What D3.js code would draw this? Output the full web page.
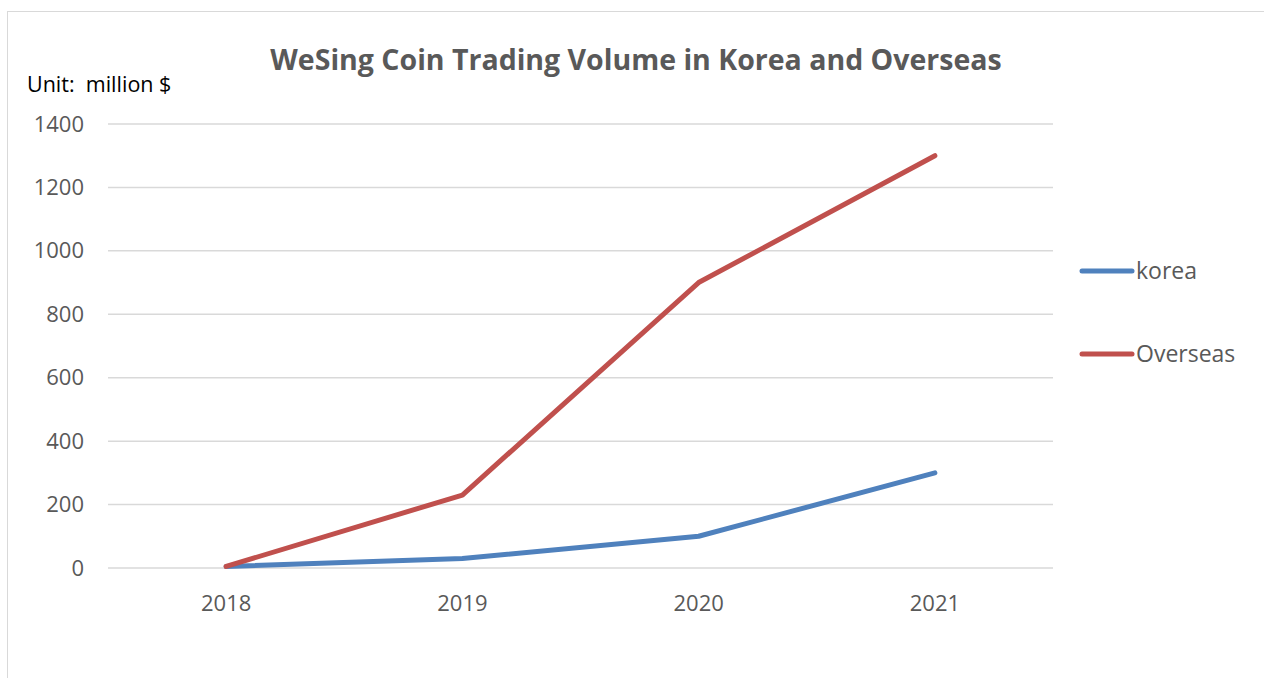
<!DOCTYPE html>
<html>
<head>
<meta charset="utf-8">
<script src="https://cdn.jsdelivr.net/npm/d3@7"></script>
<style>
  body { margin: 0; background: #fff; }
  text { font-family: "Open Sans", "Noto Sans", sans-serif; }
</style>
</head>
<body>
<script>
var years = ['2018', '2019', '2020', '2021'];
var korea = [5, 30, 100, 300];
var overseas = [5, 230, 900, 1300];
var yTicks = [0, 200, 400, 600, 800, 1000, 1200, 1400];
var seriesNames = ['korea', 'Overseas'];
var seriesColors = ['#4f81bd', '#c0504d'];

var W = 1264, H = 678;
var svg = d3.select('body').append('svg').attr('width', W).attr('height', H);

// chart frame
svg.append('rect')
    .attr('x', 7.5).attr('y', 11.5)
    .attr('width', 1270).attr('height', 700)
    .attr('fill', '#fff').attr('stroke', '#d9d9d9').attr('stroke-width', 1);

var x = d3.scaleBand().domain(years).range([108, 1053]);
var y = d3.scaleLinear().domain([0, 1400]).range([568, 124]);

// gridlines
svg.append('g')
    .selectAll('line')
    .data(yTicks)
    .enter().append('line')
    .attr('x1', 108).attr('x2', 1053)
    .attr('y1', function (d) { return y(d); })
    .attr('y2', function (d) { return y(d); })
    .attr('stroke', '#d9d9d9').attr('stroke-width', 1.5);

// y axis labels
var yAxis = svg.append('g')
    .attr('transform', 'translate(84,0)')
    .call(d3.axisLeft(y).tickValues(yTicks).tickFormat(d3.format('d')).tickSize(0).tickPadding(0));
yAxis.select('.domain').remove();
yAxis.selectAll('text')
    .attr('fill', '#595959')
    .style('font-size', '22px');

// x axis labels
var xAxis = svg.append('g')
    .attr('transform', 'translate(0,' + 590 + ')')
    .call(d3.axisBottom(x).tickSize(0).tickPadding(0));
xAxis.select('.domain').remove();
xAxis.selectAll('text')
    .attr('dy', '0.95em')
    .attr('fill', '#595959')
    .style('font-size', '22px');

var line = d3.line()
    .x(function (d, i) { return x(years[i]) + x.bandwidth() / 2; })
    .y(function (d) { return y(d); });

[korea, overseas].forEach(function (vals, i) {
    svg.append('path')
        .datum(vals)
        .attr('d', line)
        .attr('fill', 'none')
        .attr('stroke', seriesColors[i])
        .attr('stroke-width', 5)
        .attr('stroke-linecap', 'round')
        .attr('stroke-linejoin', 'round');
});

// legend
var leg = svg.append('g')
    .selectAll('g')
    .data(seriesNames)
    .enter().append('g')
    .attr('transform', function (d, i) { return 'translate(1080,' + (271 + i * 83) + ')'; });
leg.append('line')
    .attr('x1', 2).attr('x2', 52)
    .attr('stroke', function (d, i) { return seriesColors[i]; })
    .attr('stroke-width', 5)
    .attr('stroke-linecap', 'round');
leg.append('text')
    .attr('x', 56).attr('y', 8)
    .attr('fill', '#595959')
    .style('font-size', '23px')
    .text(function (d) { return d; });

// title
svg.append('text')
    .attr('x', 636).attr('y', 70)
    .attr('text-anchor', 'middle')
    .attr('fill', '#595959')
    .style('font-size', '28.5px')
    .style('font-weight', 'bold')
    .text('WeSing Coin Trading Volume in Korea and Overseas');

svg.append('text')
    .attr('x', 27).attr('y', 92)
    .attr('fill', '#000')
    .style('font-size', '21.5px')
    .style('white-space', 'pre')
    .text('Unit:  million $');
</script>
</body>
</html>
